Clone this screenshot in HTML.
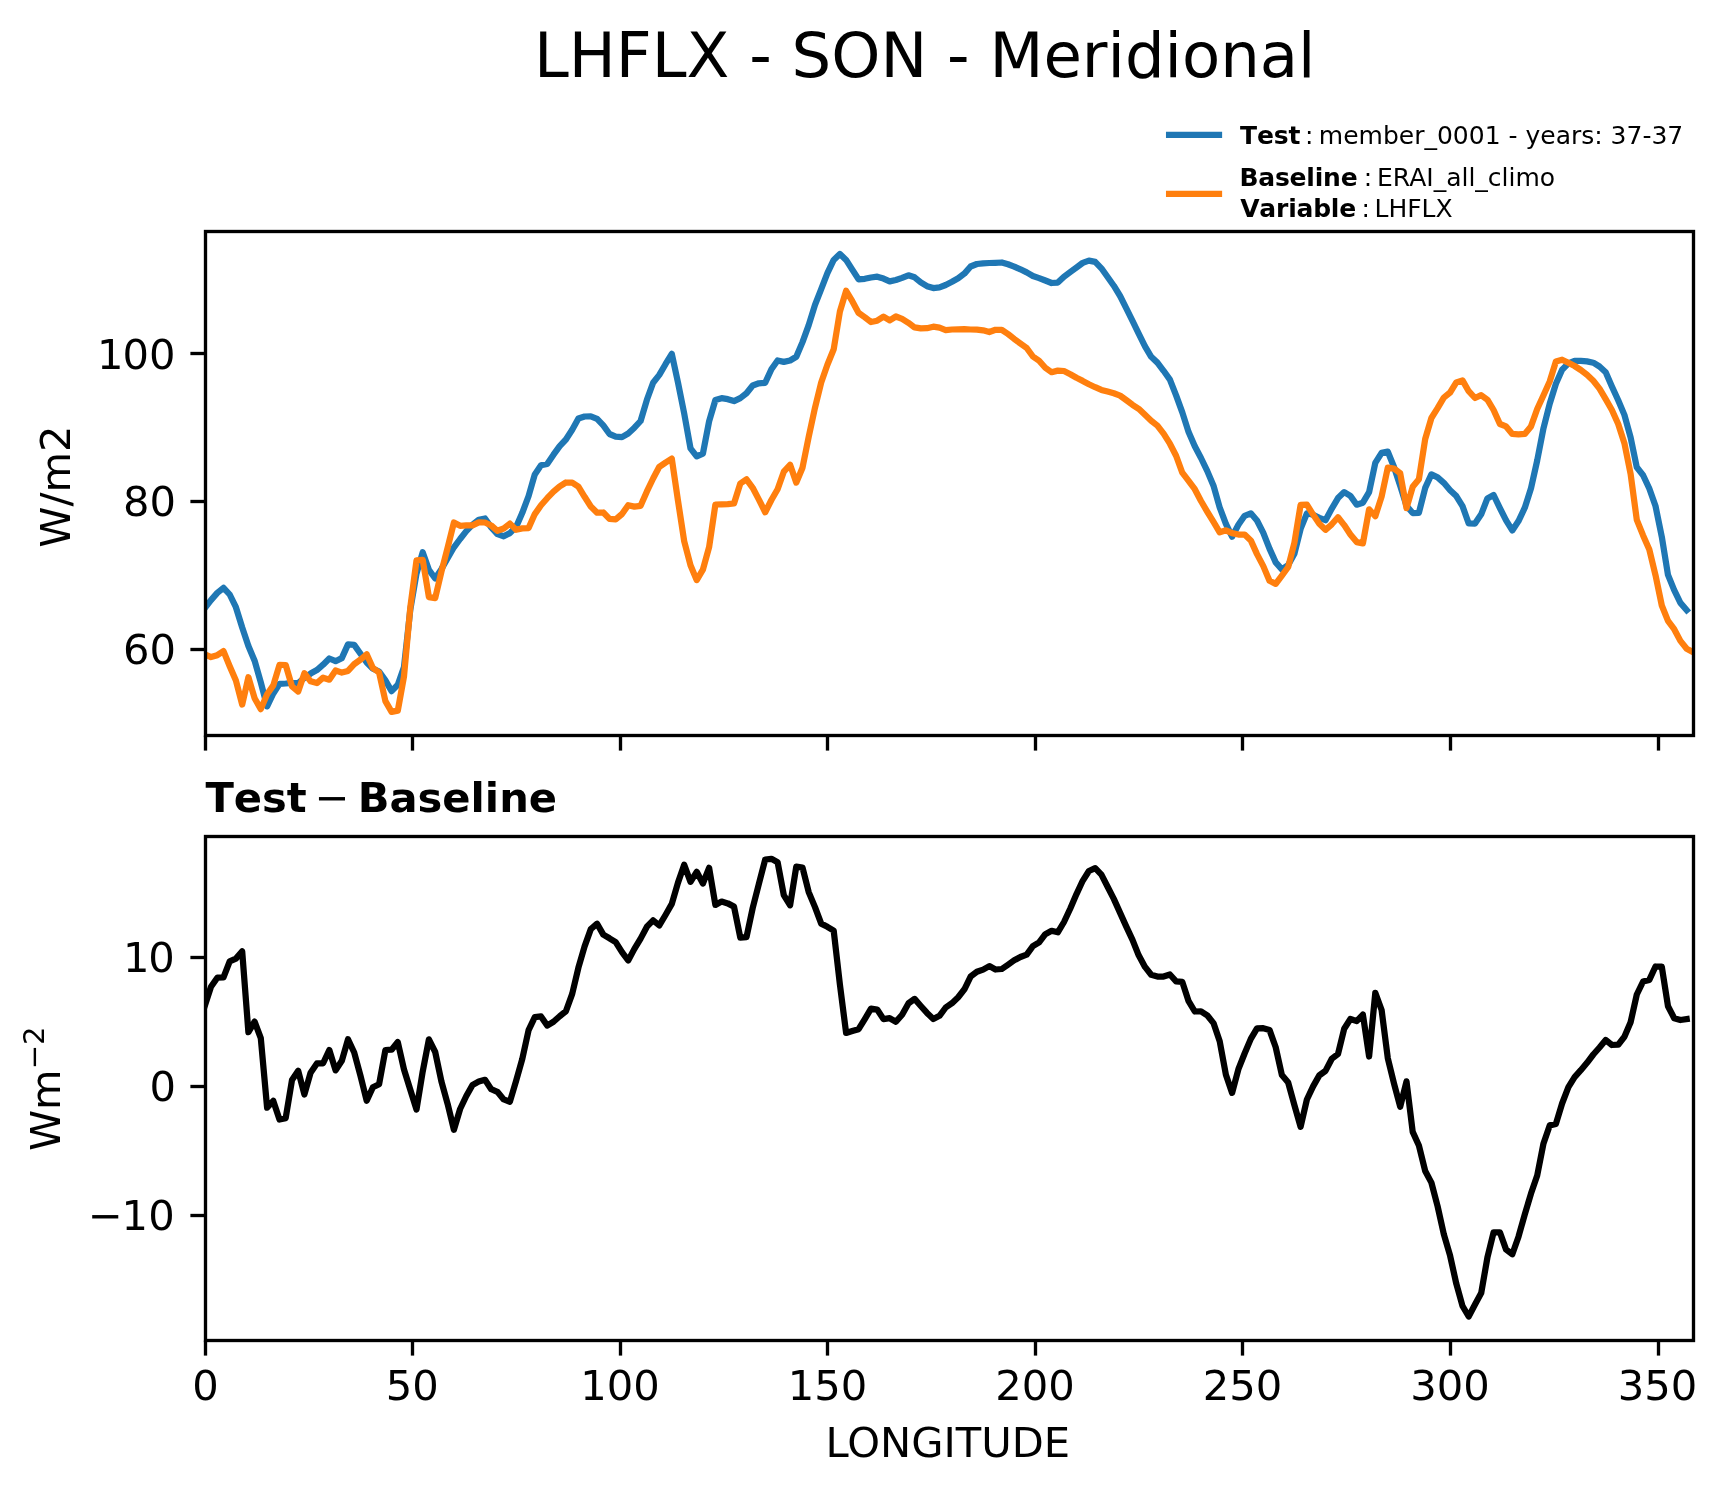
<!DOCTYPE html>
<html lang="en"><head><meta charset="utf-8"><title>LHFLX - SON - Meridional</title>
<style>html,body{margin:0;padding:0;background:#fff;width:1727px;height:1496px}svg{display:block;will-change:transform}text{font-family:"DejaVu Sans","Liberation Sans",sans-serif;fill:#000}.t10{font-size:41.67px}.ttl{font-size:62.5px}.lg{font-size:25px}.b{font-weight:bold;font-kerning:none}.lg .b{letter-spacing:-0.2px}.sp{stroke:#000;stroke-width:3.33;fill:none;stroke-linecap:square;stroke-linejoin:miter}.tk{stroke:#000;stroke-width:3.33;fill:none;stroke-linecap:butt}.ln{fill:none;stroke-width:6.25;stroke-linejoin:round;stroke-linecap:square}</style></head><body>
<svg width="1727" height="1496" viewBox="0 0 1727 1496">
<rect width="1727" height="1496" fill="#fff"/>
<text class="ttl" x="924.7" y="76.8" text-anchor="middle">LHFLX - SON - Meridional</text>
<line class="ln" x1="1169.1" y1="134.8" x2="1219.0" y2="134.8" stroke="#1f77b4"/>
<line class="ln" x1="1169.1" y1="193.9" x2="1219.0" y2="193.9" stroke="#ff7f0e"/>
<text class="lg" y="143.5"><tspan class="b" x="1240.1">Test</tspan><tspan x="1304.9">:</tspan><tspan x="1318.8">member_0001 - years: 37-37</tspan></text>
<text class="lg" y="185.9"><tspan class="b" x="1239.4">Baseline</tspan><tspan x="1363.8">:</tspan><tspan x="1377.0">ERAI_all_climo</tspan></text>
<text class="lg" y="216.5"><tspan class="b" x="1240.2">Variable</tspan><tspan x="1361.5">:</tspan><tspan x="1374.5">LHFLX</tspan></text>
<clipPath id="c1"><rect x="205.5" y="231.5" width="1488.0" height="504.0"/></clipPath>
<g clip-path="url(#c1)">
<polyline class="ln" stroke="#1f77b4" points="204.8,608.2 211.0,600.1 217.3,592.9 223.5,587.8 229.7,594.5 235.9,607.2 242.2,627.5 248.4,646.0 254.6,660.7 260.8,682.4 267.1,706.4 273.3,693.5 279.5,683.8 285.7,683.5 292.0,683.0 298.2,683.1 304.4,677.8 310.6,673.6 316.9,670.1 323.1,664.7 329.3,658.5 335.6,661.2 341.8,658.1 348.0,644.4 354.2,644.9 360.5,653.8 366.7,662.5 372.9,668.7 379.1,671.5 385.4,680.4 391.6,691.1 397.8,684.8 404.0,666.9 410.3,609.7 416.5,573.5 422.7,552.3 428.9,569.8 435.2,578.5 441.4,569.1 447.6,558.1 453.9,547.3 460.1,539.0 466.3,531.1 472.5,524.7 478.8,519.8 485.0,518.5 491.2,527.4 497.4,534.1 503.7,536.3 509.9,533.1 516.1,526.9 522.3,512.8 528.6,496.0 534.8,474.4 541.0,465.3 547.2,463.9 553.5,454.7 559.7,446.1 565.9,439.5 572.2,429.7 578.4,418.5 584.6,416.5 590.8,416.3 597.1,418.8 603.3,425.4 609.5,434.0 615.7,436.6 622.0,437.1 628.2,433.5 634.4,427.7 640.6,421.0 646.9,399.8 653.1,382.7 659.3,374.9 665.5,364.2 671.8,353.9 678.0,382.6 684.2,413.5 690.5,448.4 696.7,456.4 702.9,453.6 709.1,421.3 715.4,400.0 721.6,398.2 727.8,399.2 734.0,401.1 740.3,398.1 746.5,393.3 752.7,385.5 758.9,383.3 765.2,382.8 771.4,369.3 777.6,360.5 783.8,361.9 790.1,360.5 796.3,356.8 802.5,342.1 808.7,325.2 815.0,304.8 821.2,289.1 827.4,273.1 833.7,259.9 839.9,254.0 846.1,259.9 852.3,269.6 858.6,279.4 864.8,278.8 871.0,277.5 877.2,276.7 883.5,278.6 889.7,281.4 895.9,280.0 902.1,277.9 908.4,275.3 914.6,277.3 920.8,282.4 927.0,286.2 933.3,288.1 939.5,287.4 945.7,285.0 952.0,281.8 958.2,278.3 964.4,273.6 970.6,266.5 976.9,264.0 983.1,263.3 989.3,263.0 995.5,262.8 1001.8,262.5 1008.0,264.3 1014.2,266.6 1020.4,269.3 1026.7,272.4 1032.9,276.0 1039.1,278.1 1045.3,280.5 1051.6,283.0 1057.8,282.6 1064.0,276.7 1070.3,272.1 1076.5,267.4 1082.7,262.9 1088.9,260.6 1095.2,261.9 1101.4,268.3 1107.6,277.0 1113.8,285.7 1120.1,296.0 1126.3,308.4 1132.5,320.8 1138.7,333.6 1145.0,346.3 1151.2,356.8 1157.4,362.6 1163.6,370.8 1169.9,379.6 1176.1,395.4 1182.3,412.4 1188.6,432.1 1194.8,446.3 1201.0,458.0 1207.2,470.9 1213.5,485.7 1219.7,507.5 1225.9,523.8 1232.1,536.7 1238.4,524.8 1244.6,515.8 1250.8,513.3 1257.0,520.5 1263.3,532.9 1269.5,548.6 1275.7,562.4 1281.9,569.4 1288.2,565.0 1294.4,553.7 1300.6,528.9 1306.9,513.3 1313.1,514.8 1319.3,517.8 1325.5,520.2 1331.8,508.6 1338.0,498.1 1344.2,492.1 1350.4,495.9 1356.7,504.7 1362.9,502.7 1369.1,492.1 1375.3,462.9 1381.6,452.9 1387.8,451.6 1394.0,467.0 1400.2,485.7 1406.5,505.8 1412.7,513.1 1418.9,512.8 1425.2,487.9 1431.4,474.4 1437.6,477.3 1443.8,482.8 1450.1,490.2 1456.3,496.1 1462.5,506.1 1468.7,523.5 1475.0,523.6 1481.2,514.3 1487.4,498.4 1493.6,495.0 1499.9,508.1 1506.1,520.4 1512.3,530.4 1518.5,521.1 1524.8,507.7 1531.0,488.3 1537.2,460.5 1543.5,428.2 1549.7,403.7 1555.9,383.7 1562.1,369.8 1568.4,363.4 1574.6,360.9 1580.8,360.9 1587.0,361.4 1593.3,362.7 1599.5,366.5 1605.7,372.2 1611.9,386.4 1618.2,400.3 1624.4,414.9 1630.6,437.3 1636.8,467.3 1643.1,475.2 1649.3,488.5 1655.5,506.0 1661.8,536.8 1668.0,574.9 1674.2,590.2 1680.4,602.9 1686.7,610.2"/>
<polyline class="ln" stroke="#ff7f0e" points="204.8,654.3 211.0,657.1 217.3,655.2 223.5,651.1 229.7,666.2 235.9,680.5 242.2,704.6 248.4,677.2 254.6,698.2 260.8,709.1 267.1,694.3 273.3,685.4 279.5,664.9 285.7,665.0 292.0,686.4 298.2,691.5 304.4,673.2 310.6,681.3 316.9,683.1 323.1,677.7 329.3,679.7 335.6,670.5 341.8,672.6 348.0,670.9 354.2,664.1 360.5,659.6 366.7,654.3 372.9,668.0 379.1,672.6 385.4,701.1 391.6,711.9 397.8,710.6 404.0,676.4 410.3,607.5 416.5,560.3 422.7,559.8 428.9,597.1 435.2,598.1 441.4,571.7 447.6,547.9 453.9,522.5 460.1,525.8 466.3,525.4 472.5,525.3 478.8,522.4 485.0,522.5 491.2,525.5 497.4,530.8 503.7,528.5 509.9,523.6 516.1,529.8 522.3,528.4 528.6,528.1 534.8,514.1 541.0,505.3 547.2,498.2 553.5,491.6 559.7,486.3 565.9,482.5 572.2,482.7 578.4,486.6 584.6,496.8 590.8,506.5 597.1,512.7 603.3,512.5 609.5,518.9 615.7,519.3 622.0,514.0 628.2,505.2 634.4,506.6 640.6,505.8 646.9,491.4 653.1,478.5 659.3,466.8 665.5,462.6 671.8,458.6 678.0,500.7 684.2,541.2 690.5,565.3 696.7,580.1 702.9,569.7 709.1,547.2 715.4,504.5 721.6,504.3 727.8,504.2 734.0,503.5 740.3,483.5 746.5,479.3 752.7,487.8 758.9,499.6 765.2,512.3 771.4,500.0 777.6,489.2 783.8,471.7 790.1,464.8 796.3,482.6 802.5,467.7 808.7,436.8 815.0,407.7 821.2,382.5 827.4,364.7 833.7,349.2 839.9,311.5 846.1,290.8 852.3,301.2 858.6,312.9 864.8,317.2 871.0,322.0 877.2,320.7 883.5,316.6 889.7,320.4 895.9,316.5 902.1,318.9 908.4,322.8 914.6,327.4 920.8,328.4 927.0,328.2 933.3,326.7 939.5,327.7 945.7,330.1 952.0,329.5 958.2,329.4 964.4,329.2 970.6,329.5 976.9,329.6 983.1,330.3 989.3,332.0 995.5,329.8 1001.8,329.8 1008.0,334.0 1014.2,338.9 1020.4,343.5 1026.7,348.0 1032.9,356.5 1039.1,360.8 1045.3,367.8 1051.6,372.2 1057.8,370.6 1064.0,371.0 1070.3,374.2 1076.5,377.8 1082.7,380.9 1088.9,384.2 1095.2,387.2 1101.4,389.9 1107.6,391.6 1113.8,393.3 1120.1,395.6 1126.3,400.1 1132.5,404.8 1138.7,408.8 1145.0,414.8 1151.2,420.8 1157.4,425.6 1163.6,433.7 1169.9,443.7 1176.1,455.7 1182.3,472.7 1188.6,480.8 1194.8,489.2 1201.0,501.0 1207.2,511.6 1213.5,521.9 1219.7,532.4 1225.9,530.3 1232.1,533.1 1238.4,534.5 1244.6,534.5 1250.8,540.4 1257.0,554.1 1263.3,566.1 1269.5,580.8 1275.7,583.9 1281.9,575.6 1288.2,567.0 1294.4,542.7 1300.6,504.9 1306.9,504.7 1313.1,514.6 1319.3,523.8 1325.5,529.8 1331.8,524.3 1338.0,517.3 1344.2,525.1 1350.4,534.4 1356.7,542.1 1362.9,543.4 1369.1,509.4 1375.3,516.2 1381.6,496.6 1387.8,467.6 1394.0,468.5 1400.2,473.3 1406.5,508.1 1412.7,486.8 1418.9,479.3 1425.2,439.0 1431.4,418.0 1437.6,408.2 1443.8,397.6 1450.1,392.5 1456.3,382.4 1462.5,380.4 1468.7,391.2 1475.0,398.0 1481.2,395.2 1487.4,399.7 1493.6,410.0 1499.9,424.0 1506.1,426.4 1512.3,433.9 1518.5,434.4 1524.8,433.9 1531.0,426.4 1537.2,409.0 1543.5,395.2 1549.7,381.5 1555.9,361.5 1562.1,359.7 1568.4,362.7 1574.6,366.0 1580.8,370.0 1587.0,374.8 1593.3,380.8 1599.5,388.6 1605.7,399.1 1611.9,410.0 1618.2,424.0 1624.4,443.2 1630.6,473.9 1636.8,519.9 1643.1,535.4 1649.3,549.5 1655.5,575.2 1661.8,605.5 1668.0,620.8 1674.2,629.2 1680.4,640.9 1686.7,648.7 1692.9,652.0"/>
</g>
<line class="tk" x1="205.5" y1="735.5" x2="205.5" y2="750.6"/>
<line class="tk" x1="412.5" y1="735.5" x2="412.5" y2="750.6"/>
<line class="tk" x1="620.5" y1="735.5" x2="620.5" y2="750.6"/>
<line class="tk" x1="827.5" y1="735.5" x2="827.5" y2="750.6"/>
<line class="tk" x1="1035.5" y1="735.5" x2="1035.5" y2="750.6"/>
<line class="tk" x1="1242.5" y1="735.5" x2="1242.5" y2="750.6"/>
<line class="tk" x1="1450.5" y1="735.5" x2="1450.5" y2="750.6"/>
<line class="tk" x1="1658.5" y1="735.5" x2="1658.5" y2="750.6"/>
<line class="tk" x1="190.4" y1="649.5" x2="205.5" y2="649.5"/>
<text class="t10" x="123.0 149.5" y="664.4">60</text>
<line class="tk" x1="190.4" y1="501.5" x2="205.5" y2="501.5"/>
<text class="t10" x="123.0 149.5" y="516.4">80</text>
<line class="tk" x1="190.4" y1="353.5" x2="205.5" y2="353.5"/>
<text class="t10" x="97.0 122.4 148.9" y="369.4">100</text>
<rect class="sp" x="205.5" y="231.5" width="1488.0" height="504.0"/>
<text class="t10" transform="translate(70.3,486.6) rotate(-90)" text-anchor="middle">W/m2</text>
<text class="t10" y="812.1"><tspan class="b" x="205.4">Test</tspan><tspan x="314.8">−</tspan><tspan class="b" x="357.7">Baseline</tspan></text>
<clipPath id="c2"><rect x="205.5" y="836.5" width="1488.0" height="504.0"/></clipPath>
<g clip-path="url(#c2)">
<polyline class="ln" stroke="#000" points="204.8,1005.8 211.0,986.8 217.3,977.7 223.5,977.3 229.7,961.3 235.9,958.6 242.2,951.4 248.4,1032.2 254.6,1021.6 260.8,1038.2 267.1,1107.6 273.3,1100.9 279.5,1119.5 285.7,1118.1 292.0,1080.1 298.2,1070.8 304.4,1094.5 310.6,1072.7 316.9,1063.4 323.1,1063.3 329.3,1050.0 335.6,1070.4 341.8,1060.8 348.0,1039.3 354.2,1052.5 360.5,1075.9 366.7,1100.8 372.9,1087.3 379.1,1084.2 385.4,1050.0 391.6,1049.7 397.8,1042.1 404.0,1069.5 410.3,1089.8 416.5,1109.6 422.7,1071.6 428.9,1039.4 435.2,1052.0 441.4,1081.4 447.6,1103.8 453.9,1129.8 460.1,1109.0 466.3,1096.0 472.5,1084.9 478.8,1081.6 485.0,1079.8 491.2,1089.2 497.4,1091.8 503.7,1099.4 509.9,1101.7 516.1,1080.9 522.3,1058.8 528.6,1030.2 534.8,1017.1 541.0,1016.4 547.2,1025.6 553.5,1021.8 559.7,1016.2 565.9,1011.2 572.2,993.9 578.4,967.7 584.6,946.4 590.8,929.1 597.1,923.7 603.3,934.6 609.5,938.3 615.7,942.2 622.0,952.2 628.2,960.5 634.4,948.9 640.6,938.6 646.9,926.7 653.1,920.3 659.3,925.4 665.5,915.0 671.8,903.9 678.0,882.6 684.2,864.8 690.5,881.9 696.7,871.8 702.9,883.5 709.1,867.8 715.4,904.9 721.6,901.6 727.8,903.4 734.0,906.6 740.3,937.6 746.5,937.1 752.7,908.0 758.9,883.8 765.2,859.5 771.4,858.8 777.6,862.2 783.8,895.2 790.1,905.3 796.3,866.6 802.5,867.6 808.7,892.1 815.0,907.1 821.2,923.6 827.4,926.8 833.7,930.7 839.9,984.5 846.1,1032.9 852.3,1031.0 858.6,1029.2 864.8,1019.1 871.0,1008.6 877.2,1009.5 883.5,1019.1 889.7,1018.2 895.9,1021.8 902.1,1014.7 908.4,1003.4 914.6,998.9 920.8,1006.0 927.0,1012.9 933.3,1019.0 939.5,1015.8 945.7,1007.5 952.0,1003.2 958.2,997.2 964.4,989.3 970.6,976.6 976.9,971.8 983.1,969.6 989.3,966.1 995.5,969.5 1001.8,969.0 1008.0,964.7 1014.2,960.3 1020.4,957.0 1026.7,954.6 1032.9,946.2 1039.1,942.4 1045.3,934.2 1051.6,930.8 1057.8,932.3 1064.0,922.0 1070.3,908.5 1076.5,894.1 1082.7,880.8 1088.9,871.0 1095.2,868.1 1101.4,874.6 1107.6,886.7 1113.8,898.9 1120.1,912.9 1126.3,926.6 1132.5,939.8 1138.7,955.3 1145.0,966.9 1151.2,974.8 1157.4,976.5 1163.6,976.5 1169.9,974.5 1176.1,981.3 1182.3,981.9 1188.6,1001.2 1194.8,1011.5 1201.0,1011.4 1207.2,1015.3 1213.5,1023.1 1219.7,1041.2 1225.9,1074.8 1232.1,1092.9 1238.4,1069.2 1244.6,1053.5 1250.8,1038.9 1257.0,1028.3 1263.3,1028.2 1269.5,1029.9 1275.7,1047.3 1281.9,1075.1 1288.2,1082.6 1294.4,1105.1 1300.6,1126.8 1306.9,1099.5 1313.1,1086.4 1319.3,1075.4 1325.5,1070.9 1331.8,1058.7 1338.0,1054.1 1344.2,1028.7 1350.4,1019.0 1356.7,1021.1 1362.9,1014.6 1369.1,1056.5 1375.3,992.9 1381.6,1010.0 1387.8,1058.2 1394.0,1083.4 1400.2,1106.8 1406.5,1081.4 1412.7,1131.9 1418.9,1145.5 1425.2,1171.0 1431.4,1182.6 1437.6,1206.2 1443.8,1234.1 1450.1,1255.7 1456.3,1283.7 1462.5,1306.0 1468.7,1316.5 1475.0,1304.5 1481.2,1293.1 1487.4,1257.6 1493.6,1232.3 1499.9,1232.3 1506.1,1249.6 1512.3,1254.3 1518.5,1236.7 1524.8,1214.3 1531.0,1193.6 1537.2,1175.5 1543.5,1143.4 1549.7,1125.4 1555.9,1123.9 1562.1,1103.5 1568.4,1087.2 1574.6,1077.1 1580.8,1070.2 1587.0,1062.8 1593.3,1054.5 1599.5,1047.5 1605.7,1040.0 1611.9,1045.0 1618.2,1044.7 1624.4,1036.8 1630.6,1022.3 1636.8,994.5 1643.1,981.5 1649.3,979.9 1655.5,966.5 1661.8,966.7 1668.0,1006.2 1674.2,1018.2 1680.4,1020.0 1686.7,1019.1"/>
</g>
<line class="tk" x1="205.5" y1="1340.5" x2="205.5" y2="1355.6"/>
<text class="t10" x="205.5" y="1399.8" text-anchor="middle">0</text>
<line class="tk" x1="412.5" y1="1340.5" x2="412.5" y2="1355.6"/>
<text class="t10" x="412.3" y="1399.8" text-anchor="middle">50</text>
<line class="tk" x1="620.5" y1="1340.5" x2="620.5" y2="1355.6"/>
<text class="t10" x="619.9" y="1399.8" text-anchor="middle">100</text>
<line class="tk" x1="827.5" y1="1340.5" x2="827.5" y2="1355.6"/>
<text class="t10" x="827.4" y="1399.8" text-anchor="middle">150</text>
<line class="tk" x1="1035.5" y1="1340.5" x2="1035.5" y2="1355.6"/>
<text class="t10" x="1035.0" y="1399.8" text-anchor="middle">200</text>
<line class="tk" x1="1242.5" y1="1340.5" x2="1242.5" y2="1355.6"/>
<text class="t10" x="1242.5" y="1399.8" text-anchor="middle">250</text>
<line class="tk" x1="1450.5" y1="1340.5" x2="1450.5" y2="1355.6"/>
<text class="t10" x="1450.1" y="1399.8" text-anchor="middle">300</text>
<line class="tk" x1="1658.5" y1="1340.5" x2="1658.5" y2="1355.6"/>
<text class="t10" x="1657.6" y="1399.8" text-anchor="middle">350</text>
<line class="tk" x1="190.4" y1="1215.5" x2="205.5" y2="1215.5"/>
<text class="t10" x="88.1 121.6 148.2" y="1230.4">−10</text>
<line class="tk" x1="190.4" y1="1086.5" x2="205.5" y2="1086.5"/>
<text class="t10" x="149.5" y="1101.4">0</text>
<line class="tk" x1="190.4" y1="957.5" x2="205.5" y2="957.5"/>
<text class="t10" x="123.0 148.3" y="972.4">10</text>
<rect class="sp" x="205.5" y="836.5" width="1488.0" height="504.0"/>
<text class="t10" x="947.8" y="1457.4" text-anchor="middle">LONGITUDE</text>
<g transform="translate(60.0,1151.1) rotate(-90)"><text class="t10" x="0" y="0">Wm<tspan font-size="29.17px" dy="-15.9">−2</tspan></text></g>
</svg></body></html>
